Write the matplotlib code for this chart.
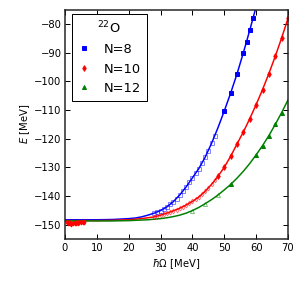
import matplotlib
matplotlib.use('Agg')
import matplotlib.pyplot as plt

# smooth curves
hw_fit = [0, 5, 10, 15, 20, 22, 24, 26, 28, 30, 32, 34, 36, 38, 40, 42, 44, 46, 48, 50,
          52, 54, 56, 58, 60, 62, 64, 66, 68, 70]
E8_fit = [-148.2, -148.2, -148.2, -148.1, -147.8, -147.6, -147.2, -146.6, -145.9, -145.0,
          -143.7, -141.9, -139.6, -136.8, -133.6, -130.4, -126.4, -121.6, -116.2, -110.3,
          -104.1, -97.4, -90.0, -82.2, -74.0, -65.5, -57.0, -48.0, -39.0, -30.0]
E10_fit = [-148.5, -148.5, -148.5, -148.4, -148.2, -148.0, -147.8, -147.5, -147.2, -146.6,
           -145.9, -145.1, -144.2, -143.1, -141.8, -140.3, -138.3, -135.9, -133.1, -129.9,
           -126.1, -121.8, -117.6, -113.0, -108.1, -102.9, -97.3, -91.3, -84.9, -78.1]
E12_fit = [-148.6, -148.6, -148.6, -148.6, -148.5, -148.4, -148.3, -148.2, -148.0, -147.8,
           -147.5, -147.1, -146.6, -145.9, -145.0, -143.9, -142.6, -141.2, -139.6, -137.8,
           -135.9, -133.7, -131.3, -128.6, -125.6, -122.4, -118.9, -115.0, -110.9, -106.5]

# N=8 points
hw8_open = [28, 29, 30, 31, 32, 33, 34, 35, 36, 37, 38, 39, 40, 41, 42, 43, 44, 45, 46, 47]
E8_open = [-145.9, -145.5, -145.0, -144.4, -143.7, -142.85, -141.9, -140.8, -139.6, -138.25,
           -136.8, -135.2, -133.6, -132.0, -130.4, -128.5, -126.4, -124.1, -121.6, -119.0]
hw8 = [50, 52, 54, 56, 57, 58, 59]
E8 = [-110.3, -104.1, -97.4, -90.0, -86.2, -82.2, -78.1]

# N=10 points
hw10_low = [0.5, 1, 1.5, 2, 2.5, 3, 3.5, 4, 4.5, 5, 5.5, 6]
E10_low = [-149.1, -149.2, -149.3, -149.7, -149.3, -149.2, -149.2, -149.2, -149.1, -149.1,
           -149.1, -149.0]
hw10_open = [28, 29, 30, 31, 32, 33, 34, 35, 36, 37, 38, 39, 40, 41, 42, 43, 44, 45, 46, 47]
E10_open = [-147.2, -146.9, -146.6, -146.25, -145.9, -145.5, -145.1, -144.65, -144.2, -143.65,
            -143.1, -142.45, -141.8, -141.05, -140.3, -139.3, -138.3, -137.1, -135.9, -134.5]
hw10 = [48, 50, 52, 54, 56, 58, 60, 62, 64, 66, 68, 70]
E10 = [-133.1, -129.9, -126.1, -121.8, -117.6, -113.0, -108.1, -102.9, -97.3, -91.3, -84.9, -78.1]

# N=12 points
hw12_open = [40, 44, 48]
E12_open = [-145.0, -142.6, -139.6]
hw12 = [52, 60, 62, 64, 66, 68]
E12 = [-135.9, -125.6, -122.4, -118.9, -115.0, -110.9]

plt.rcParams['font.family'] = 'DejaVu Sans'
plt.rcParams['mathtext.fontset'] = 'dejavusans'

fig = plt.figure(figsize=(304 / 72, 287 / 72), dpi=72)
ax = fig.add_axes([65 / 304, 1 - 239.3 / 287, 223 / 304, 229.8 / 287])

ax.plot(hw_fit, E8_fit, color='b', lw=1.5)
ax.plot(hw_fit, E10_fit, color='r', lw=1.5)
ax.plot(hw_fit, E12_fit, color='g', lw=1.5)

ax.plot(hw8_open, E8_open, 's', ms=4, mfc='none', mec='b', mew=0.8, alpha=0.6)
l8, = ax.plot(hw8, E8, 's', ms=4, color='b', label='N=8')

ax.plot(hw10_low, E10_low, 'd', ms=3.5, color='r')
ax.plot(hw10_open, E10_open, 'd', ms=3.5, mfc='none', mec='r', mew=0.8, alpha=0.6)
l10, = ax.plot(hw10, E10, 'd', ms=4, color='r', label='N=10')

ax.plot(hw12_open, E12_open, '^', ms=4, mfc='none', mec='g', mew=0.8, alpha=0.6)
l12, = ax.plot(hw12, E12, '^', ms=4, color='g', label='N=12')

ax.set_xlim(0, 70)
ax.set_ylim(-155, -75)
ax.set_xticks(range(0, 71, 10))
ax.set_yticks(range(-150, -79, 10))
ax.tick_params(direction='in', top=True, right=True, length=5, width=1, labelsize=10)
for s in ax.spines.values():
    s.set_linewidth(1.5)
    s.set_color('#222222')

ax.set_xlabel(r'$\hbar\Omega$ [MeV]', fontsize=10)
ax.set_ylabel(r'$E$ [MeV]', fontsize=10, labelpad=2)

leg = ax.legend(handles=[l8, l10, l12], title=r'$^{22}$O', loc='upper left',
                bbox_to_anchor=(0.03, 0.98), borderaxespad=0, fontsize=13,
                title_fontsize=13, numpoints=1, fancybox=False, framealpha=1,
                edgecolor='k', handlelength=1.0, handletextpad=1.0,
                borderpad=0.45, labelspacing=0.5)
leg.get_frame().set_linewidth(1)

fig.savefig('out.png', dpi=72)
